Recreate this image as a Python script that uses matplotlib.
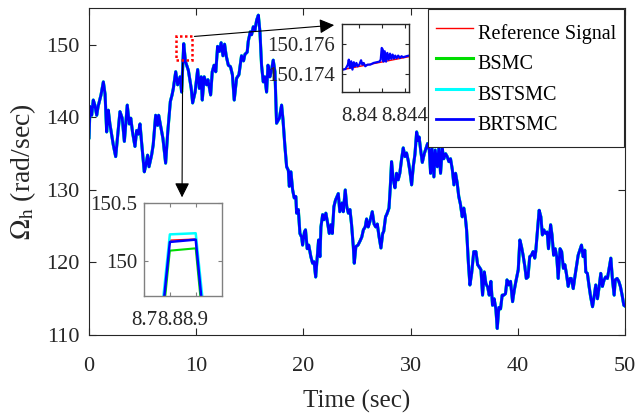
import matplotlib
matplotlib.use("Agg")
import matplotlib.pyplot as plt
from matplotlib.patches import Rectangle

plt.rcParams['font.family'] = ['Liberation Serif', 'DejaVu Serif']
plt.rcParams['mathtext.fontset'] = 'stix'

# rotor speed trace (all controllers track it closely at this scale)
t_main = [0.0, 0.1, 0.25, 0.4, 0.55, 0.72, 0.85, 1.12, 1.34, 1.5, 1.65, 1.8, 1.95, 2.27, 2.49,
          2.66, 2.89, 3.1, 3.3, 3.57, 3.76, 3.9, 4.06, 4.29, 4.45, 4.6, 4.76, 4.9, 5.16, 5.3,
          5.47, 5.6, 5.84, 5.99, 6.22, 6.4, 6.5, 6.7, 6.9, 7.15, 7.35, 7.59, 7.75, 7.87, 8.09,
          8.27, 8.5, 8.64, 8.84, 9.0, 9.27, 9.54, 9.67, 9.9, 10.14, 10.3, 10.47, 10.57, 10.75,
          10.97, 11.1, 11.35, 11.5, 11.67, 11.83, 12.0, 12.17, 12.33, 12.5, 12.65, 12.8, 13.0,
          13.2, 13.38, 13.55, 13.77, 13.99, 14.23, 14.42, 14.55, 14.76, 14.86, 15.05, 15.17,
          15.33, 15.48, 15.64, 15.8, 15.95, 16.1, 16.26, 16.4, 16.57, 16.7, 16.88, 17.0, 17.19,
          17.35, 17.5, 17.76, 17.97, 18.1, 18.28, 18.44, 18.6, 18.69, 18.84, 19.0, 19.15, 19.3,
          19.37, 19.53, 19.68, 19.84, 19.93, 20.1, 20.2, 20.36, 20.5, 20.7, 20.86, 21.0, 21.15,
          21.3, 21.42, 21.55, 21.64, 21.8, 21.93, 22.1, 22.27, 22.42, 22.57, 22.7, 22.85, 23.0,
          23.26, 23.4, 23.6, 23.72, 23.91, 24.05, 24.2, 24.35, 24.5, 24.66, 24.75, 24.9, 25.1,
          25.3, 25.45, 25.6, 25.77, 25.9, 26.05, 26.2, 26.43, 26.6, 26.75, 26.9, 27.06, 27.24,
          27.4, 27.5, 27.67, 27.8, 27.99, 28.1, 28.23, 28.39, 28.55, 28.7, 28.85, 29.0, 29.16,
          29.32, 29.48, 29.63, 29.79, 29.94, 30.1, 30.26, 30.41, 30.57, 30.72, 30.8, 30.97,
          31.1, 31.28, 31.44, 31.59, 31.75, 31.87, 32.0, 32.18, 32.3, 32.5, 32.65, 32.8, 32.96,
          33.1, 33.27, 33.42, 33.58, 33.73, 33.9, 34.05, 34.2, 34.35, 34.5, 34.66, 34.82, 34.97,
          35.12, 35.23, 35.4, 35.54, 35.7, 35.9, 36.1, 36.26, 36.4, 36.57, 36.72, 36.88, 37.03,
          37.2, 37.34, 37.5, 37.65, 37.8, 37.96, 38.09, 38.24, 38.4, 38.55, 38.7, 38.86, 39.0,
          39.17, 39.33, 39.52, 39.68, 39.83, 40.05, 40.2, 40.35, 40.5, 40.67, 40.8, 40.96, 41.12,
          41.28, 41.43, 41.59, 41.68, 41.85, 42.0, 42.16, 42.3, 42.44, 42.6, 42.75, 42.87, 43.07,
          43.2, 43.35, 43.5, 43.64, 43.78, 43.95, 44.1, 44.26, 44.4, 44.56, 44.71, 44.87, 45.0,
          45.18, 45.33, 45.5, 45.64, 45.8, 45.95, 46.1, 46.26, 46.35, 46.5, 46.66, 46.8, 46.98,
          47.13, 47.28, 47.44, 47.6, 47.75, 47.9, 48.06, 48.2, 48.37, 48.53, 48.69, 48.84, 49.0,
          49.1, 49.27, 49.43, 49.58, 49.74, 49.9, 50.0]
omega_main = [137.2, 141.5, 140.3, 142.4, 141.7, 140.3, 141.5, 143.1, 144.9, 143.2, 138.0, 141.0,
              139.1, 136.2, 134.6, 137.2, 140.8, 139.9, 136.7, 141.7, 139.1, 139.9, 138.0, 136.0,
              138.2, 137.7, 139.1, 136.7, 132.5, 133.4, 134.8, 133.2, 134.8, 136.2, 140.3, 138.9,
              140.3, 138.7, 137.1, 133.7, 138.0, 142.2, 143.1, 144.0, 146.3, 144.5, 145.6, 143.5,
              150.17, 147.7, 146.5, 144.0, 142.0, 143.5, 146.6, 144.0, 145.6, 142.4, 145.6, 144.5,
              145.2, 143.1, 146.3, 147.2, 146.3, 149.8, 149.1, 150.3, 148.5, 150.1, 148.5, 147.2,
              147.0, 145.9, 142.4, 145.4, 145.9, 148.5, 147.8, 148.7, 149.0, 150.5, 151.8, 151.4,
              152.5, 152.0, 153.4, 154.1, 151.8, 147.2, 144.9, 145.6, 143.5, 147.2, 145.6, 146.3,
              147.9, 146.3, 139.2, 139.9, 141.7, 139.7, 136.0, 133.2, 132.7, 130.5, 132.5, 130.0,
              128.9, 129.1, 126.8, 127.3, 124.0, 123.5, 122.4, 124.2, 124.5, 121.9, 122.4, 120.8,
              119.9, 120.1, 118.0, 120.8, 123.1, 120.8, 124.9, 126.6, 125.9, 126.8, 125.4, 124.0,
              125.2, 124.0, 127.7, 128.6, 129.5, 127.0, 128.2, 127.0, 130.0, 127.7, 126.8, 127.3,
              125.2, 122.2, 119.9, 122.2, 122.4, 123.0, 123.5, 124.5, 124.9, 126.0, 124.9, 125.6,
              127.0, 125.3, 124.9, 125.3, 123.6, 122.0, 124.0, 124.3, 126.3, 126.7, 127.5, 130.1,
              133.9, 131.4, 130.3, 132.3, 131.4, 132.3, 134.2, 135.8, 134.6, 135.1, 134.0, 132.6,
              130.7, 133.3, 134.9, 138.0, 136.8, 137.3, 135.2, 133.8, 135.0, 135.7, 136.4, 135.5,
              132.3, 135.7, 131.8, 135.5, 133.2, 135.9, 132.3, 135.7, 134.3, 135.0, 134.6, 133.9,
              134.3, 132.8, 130.7, 132.3, 131.0, 129.1, 128.0, 126.3, 127.5, 126.1, 124.5, 119.9,
              116.9, 118.5, 121.5, 121.5, 119.7, 119.4, 119.0, 115.5, 118.7, 117.1, 116.6, 115.5,
              117.4, 114.1, 115.0, 113.6, 110.9, 113.8, 113.6, 115.5, 115.5, 115.7, 117.6, 116.9,
              117.4, 114.6, 116.2, 117.4, 119.0, 123.1, 122.2, 121.0, 119.4, 117.8, 118.0, 120.8,
              121.0, 121.5, 120.6, 121.5, 124.5, 127.2, 126.3, 123.8, 124.5, 124.0, 124.2, 121.9,
              125.2, 123.8, 121.0, 121.9, 120.8, 117.8, 121.9, 121.5, 119.2, 119.7, 118.3, 116.7,
              117.8, 117.8, 116.4, 118.0, 119.7, 121.0, 121.7, 122.4, 120.8, 121.7, 118.7, 118.5,
              116.7, 115.3, 113.9, 115.3, 116.9, 115.0, 116.7, 118.5, 116.7, 117.6, 118.0, 117.8,
              119.2, 120.6, 117.6, 115.5, 117.6, 117.8, 117.4, 116.7, 115.5, 114.1, 114.0]

# zoom around the first peak (t = 8.7 ... 9.0 s)
t_z1 = [8.7, 8.8, 8.9, 9.0]
ref_z1 = [148.0, 150.18, 150.19, 148.0]
bsmc_z1 = [147.9, 150.09, 150.11, 147.8]
bstsmc_z1 = [148.1, 150.23, 150.24, 148.1]
brtsmc_z1 = [148.0, 150.165, 150.185, 147.9]

# fine zoom (t = 8.8385 ... 8.8444 s)
t_z2_ref = [8.8385, 8.8444]
ref_z2 = [150.17428, 150.17515]
t_z2 = [8.83855, 8.83878, 8.83899, 8.83907, 8.83916, 8.83928, 8.83939, 8.83951, 8.83962,
        8.83974, 8.83985, 8.84000, 8.84015, 8.84026, 8.84038, 8.84052, 8.84072, 8.84096,
        8.84125, 8.84154, 8.84177, 8.84188, 8.84197, 8.84206, 8.84212, 8.84223, 8.84235,
        8.84246, 8.84258, 8.84270, 8.84281, 8.84293, 8.84304, 8.84316, 8.84328, 8.84342,
        8.84357, 8.84371, 8.84386, 8.84415, 8.84438]
brtsmc_z2 = [150.17429, 150.17433, 150.17462, 150.17495, 150.17440, 150.17484, 150.17429,
             150.17478, 150.17451, 150.17473, 150.17451, 150.17462, 150.17491, 150.17462,
             150.17473, 150.17451, 150.17462, 150.17462, 150.17473, 150.17478, 150.17482,
             150.17495, 150.17573, 150.17562, 150.17482, 150.17551, 150.17482, 150.17540,
             150.17495, 150.17535, 150.17500, 150.17529, 150.17502, 150.17522, 150.17504,
             150.17522, 150.17506, 150.17518, 150.17511, 150.17518, 150.17522]

labels = ['Reference Signal', 'BSMC', 'BSTSMC', 'BRTSMC']
colors = ['#ff0000', '#00dd00', '#00ffff', '#0000ff']
dark = '#262626'

fig = plt.figure(figsize=(6.37, 4.17), dpi=100)
ax = fig.add_axes([0.1397, 0.1966, 0.8413, 0.7844])

ax.plot(t_main, omega_main, color=colors[0], lw=1.0, label=labels[0])
ax.plot(t_main, omega_main, color=colors[1], lw=2.2, label=labels[1])
ax.plot(t_main, omega_main, color=colors[2], lw=2.2, label=labels[2])
ax.plot(t_main, omega_main, color=colors[3], lw=2.0, label=labels[3])

ax.set_xlim(0, 50)
ax.set_ylim(110, 155.1)
ax.set_xticks([0, 10, 20, 30, 40, 50])
ax.set_yticks([110, 120, 130, 140, 150])
ax.tick_params(direction='in', top=True, right=True, length=5, labelsize=16,
               colors=dark, width=0.8)
ax.tick_params(axis='x', pad=16)
ax.tick_params(axis='y', pad=7)
for s in ax.spines.values():
    s.set_color(dark)
    s.set_linewidth(0.8)
ax.set_xlabel('Time (sec)', fontsize=18, color=dark, labelpad=10)
ax.set_ylabel(r'$\Omega_{\rm h}$ (rad/sec)', fontsize=20, color=dark)
ax.yaxis.set_label_coords(-0.096, 0.5)

leg = ax.legend(loc='upper right', fontsize=14.5, borderaxespad=0.05, fancybox=False,
                handlelength=1.8, handleheight=1.95, handletextpad=0.25, labelspacing=0.0,
                borderpad=0.4, framealpha=1)
leg.get_frame().set_edgecolor(dark)
leg.get_frame().set_linewidth(0.8)

# dotted box marking the zoomed region
ax.add_patch(Rectangle((8.12, 147.9), 1.46, 3.3, fill=False, ec='#ff0000',
                       ls=(0, (1, 1.0)), lw=1.8, zorder=5))
ax.annotate('', xy=(23.13, 152.76), xytext=(9.58, 151.14),
            arrowprops=dict(arrowstyle='-|>', color='black', lw=0.8, mutation_scale=22))
ax.annotate('', xy=(8.68, 128.6), xytext=(8.74, 147.9),
            arrowprops=dict(arrowstyle='-|>', color='black', lw=0.8, mutation_scale=22))

# lower inset
ax1 = fig.add_axes([0.2261, 0.2902, 0.1217, 0.2230])
ax1.plot(t_z1, ref_z1, color=colors[0], lw=1.0)
ax1.plot(t_z1, bsmc_z1, color=colors[1], lw=1.5)
ax1.plot(t_z1, bstsmc_z1, color=colors[2], lw=1.8)
ax1.plot(t_z1, brtsmc_z1, color=colors[3], lw=1.8)
ax1.set_xlim(8.7, 9.0)
ax1.set_ylim(149.7, 150.5)
ax1.set_xticks([8.7, 8.8, 8.9])
ax1.set_xticklabels(['8.7', '8.8', '8.9'])
ax1.set_yticks([150, 150.5])
ax1.set_yticklabels(['150', '150.5'])

# upper inset
ax2 = fig.add_axes([0.5374, 0.7794, 0.1052, 0.1623])
ax2.plot(t_z2_ref, ref_z2, color=colors[0], lw=1.0)
ax2.plot(t_z2, brtsmc_z2, color=colors[3], lw=1.6)
ax2.set_xlim(8.8385, 8.8444)
ax2.set_ylim(150.1728, 150.1773)
ax2.set_xticks([8.84, 8.842, 8.844])
ax2.set_xticklabels(['8.84', '', '8.844'])
ax2.set_yticks([150.174, 150.176])
ax2.set_yticklabels(['150.174', '150.176'])

for a, ec in ((ax1, '#808080'), (ax2, dark)):
    a.tick_params(direction='in', top=True, right=True, length=3, labelsize=15,
                  colors=dark)
    a.tick_params(axis='x', pad=11)
    a.tick_params(axis='y', pad=5)
    for s in a.spines.values():
        s.set_color(ec)
        s.set_linewidth(1.0)
    a.tick_params(axis='both', color=ec)

fig.savefig('out.png', dpi=100)
